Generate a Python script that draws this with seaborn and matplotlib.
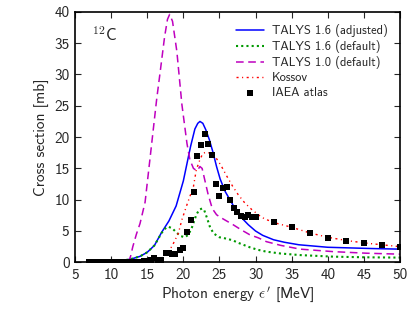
import numpy as np
import pandas as pd
import matplotlib
matplotlib.use("Agg")
import matplotlib.pyplot as plt
import seaborn as sns

# ---- data ----
blue_E = [7, 9, 11, 12, 13, 14, 15, 16, 17, 18, 19, 20, 21, 21.6, 22.0, 22.3, 22.7, 23.1, 23.6,
          24.1, 24.6, 25.1, 25.8, 26.5, 27.2, 28.0, 29.0, 30.0, 31.0, 32.5, 34, 36, 38, 40, 43, 46, 50]
blue_s = [0.0, 0.05, 0.2, 0.35, 0.6, 0.95, 1.6, 2.7, 4.8, 6.6, 9.0, 13.0, 18.5, 21.3, 22.2, 22.5, 22.2,
          21.2, 19.6, 17.6, 15.3, 13.3, 11.3, 9.9, 8.5, 7.2, 6.0, 5.0, 4.3, 3.6, 3.2, 2.8, 2.6, 2.4,
          2.3, 2.2, 2.1]

green_E = [7, 9, 11, 12, 13, 14, 15, 16, 17, 17.5, 17.9, 18.5, 19.0, 19.6, 20.2, 20.7, 21.2, 21.8,
           22.2, 22.6, 22.9, 23.3, 23.7, 24.2, 25.0, 25.5, 26.9, 27.4, 28.3, 29.2, 30.3, 31.5, 33.5,
           36.2, 40.8, 45, 50]
green_s = [0.0, 0.05, 0.2, 0.35, 0.6, 0.95, 1.6, 2.7, 4.7, 5.4, 5.7, 5.4, 4.8, 4.2, 4.0, 4.4, 5.6,
           7.6, 8.4, 8.6, 8.3, 7.0, 5.6, 4.6, 4.0, 3.9, 3.5, 3.2, 2.8, 2.4, 2.0, 1.7, 1.4, 1.15, 0.9,
           0.8, 0.75]

mag_E = [12.4, 12.7, 13.0, 13.5, 14.0, 14.7, 15.6, 16.3, 16.8, 17.4, 17.8, 18.1, 18.5, 19.1, 19.8,
         20.5, 20.9, 21.4, 21.9, 22.3, 22.6, 23.0, 23.4, 24.0, 24.6, 25.1, 26.0, 26.9, 28.0, 29.2,
         30.4, 31.5, 33.5, 36.2, 40.8, 45.4, 50]
mag_s = [0.0, 1.0, 2.5, 4.5, 6.2, 9.6, 18.8, 26.0, 30.5, 36.0, 38.8, 39.6, 38.5, 33.7, 25.2, 19.0,
         16.4, 15.0, 14.6, 15.3, 15.0, 13.0, 11.0, 8.6, 7.6, 7.2, 6.6, 6.0, 5.2, 4.4, 3.9, 3.3, 2.7,
         2.1, 1.7, 1.45, 1.3]

red_E = [15.5, 16.5, 17.0, 17.7, 18.4, 19.3, 19.8, 20.5, 21.4, 21.8, 22.3, 22.7, 23.2, 23.8, 24.4,
         25.2, 26.0, 26.8, 27.6, 28.5, 29.5, 30.5, 31.3, 33, 35, 37.5, 40, 42.5, 45, 47.5, 50]
red_s = [0.0, 0.2, 0.6, 1.5, 2.5, 4.6, 6.8, 9.2, 12.1, 14.8, 16.4, 17.4, 17.6, 17.4, 16.9, 15.5,
         13.8, 12.2, 10.8, 9.5, 8.4, 7.5, 6.9, 6.2, 5.6, 4.7, 4.0, 3.5, 3.1, 2.8, 2.5]

iaea_E = [7.0, 7.5, 8.0, 8.5, 9.0, 9.5, 10.0, 10.5, 11.0, 11.5, 12.0, 12.5, 13.0, 13.5, 14.0, 14.5,
          15.0, 15.5, 15.9, 16.5, 16.9, 17.6, 18.0, 18.4, 18.85, 19.5, 20.0, 20.5, 21.0, 21.5, 21.9,
          22.45, 23.0, 23.46, 24.0, 24.5, 25.0, 25.45, 26.0, 26.5, 27.0, 27.5, 28.0, 28.5, 29.0,
          29.5, 30.0, 32.5, 35.0, 37.5, 40.0, 42.5, 45.0, 47.5, 50.0]
iaea_s = [0.05, 0.05, 0.05, 0.05, 0.06, 0.06, 0.07, 0.07, 0.08, 0.08, 0.09, 0.1, 0.1, 0.12, 0.12,
          0.15, 0.2, 0.3, 0.62, 0.35, 0.4, 1.45, 1.5, 1.3, 1.35, 2.0, 2.3, 4.8, 6.7, 11.2, 17.0, 18.8,
          20.5, 18.9, 17.1, 12.5, 10.6, 11.8, 12.0, 10.0, 8.7, 8.0, 7.4, 7.3, 7.5, 7.25, 7.25, 6.45,
          5.6, 4.64, 3.84, 3.46, 3.14, 2.77, 2.5]

labels = ["TALYS 1.6 (adjusted)", "TALYS 1.6 (default)", "TALYS 1.0 (default)", "Kossov", "IAEA atlas"]
x_ticks = [5, 10, 15, 20, 25, 30, 35, 40, 45, 50]
y_ticks = [0, 5, 10, 15, 20, 25, 30, 35, 40]

# ---- style ----
sns.set_style("ticks")
plt.rcParams["font.family"] = ["cmss10", "DejaVu Sans"]
plt.rcParams["mathtext.fontset"] = "cm"
plt.rcParams["axes.unicode_minus"] = False
plt.rcParams["font.size"] = 9

fig = plt.figure(figsize=(4.17, 3.13), dpi=100)
ax = fig.add_axes([0.18, 0.162, 0.779, 0.80])

df_b = pd.DataFrame({"E": blue_E, "s": blue_s})
df_g = pd.DataFrame({"E": green_E, "s": green_s})
df_m = pd.DataFrame({"E": mag_E, "s": mag_s})
df_r = pd.DataFrame({"E": red_E, "s": red_s})
df_d = pd.DataFrame({"E": iaea_E, "s": iaea_s})

sns.lineplot(data=df_b, x="E", y="s", ax=ax, color=(0, 0, 1), lw=1.1, estimator=None,
             sort=False, label=labels[0])
sns.lineplot(data=df_g, x="E", y="s", ax=ax, color=(0, 0.6, 0), lw=1.5, estimator=None,
             sort=False, label=labels[1])
sns.lineplot(data=df_m, x="E", y="s", ax=ax, color=(0.75, 0, 0.75), lw=1.1, estimator=None,
             sort=False, label=labels[2])
sns.lineplot(data=df_r, x="E", y="s", ax=ax, color=(1, 0, 0), lw=1.0, estimator=None,
             sort=False, label=labels[3])
ax.lines[1].set_linestyle((0, (1, 1.5)))
ax.lines[2].set_linestyle((0, (5, 3)))
ax.lines[3].set_linestyle((0, (1.5, 2.5, 0.8, 2.5)))
sns.scatterplot(data=df_d, x="E", y="s", ax=ax, color="black", marker="s", s=20,
                edgecolor="black", linewidth=0, label=labels[4], zorder=5)

ax.set_xlim(5, 50)
ax.set_ylim(0, 40)
ax.set_xticks(x_ticks)
ax.set_yticks(y_ticks)
ax.set_xticklabels([str(t) for t in x_ticks])
ax.set_yticklabels([str(t) for t in y_ticks])
ax.tick_params(direction="in", top=True, right=True, length=4, width=0.8, labelsize=11, pad=4)
for sp in ax.spines.values():
    sp.set_linewidth(1.2)
    sp.set_color("black")

ax.set_xlabel(r"Photon energy $\epsilon'$ [MeV]", fontsize=11, labelpad=2)
ax.set_ylabel("Cross section [mb]", fontsize=11, labelpad=4)
ax.text(0.052, 0.945, r"$^{\mathsf{12}}$C", transform=ax.transAxes, fontsize=12,
        ha="left", va="top")

leg = ax.legend(loc="upper right", bbox_to_anchor=(0.978, 0.972), frameon=False, fontsize=9,
                handlelength=2.3, labelspacing=0.25, borderaxespad=0.0, handletextpad=0.6)

fig.savefig("out.png", dpi=100)
